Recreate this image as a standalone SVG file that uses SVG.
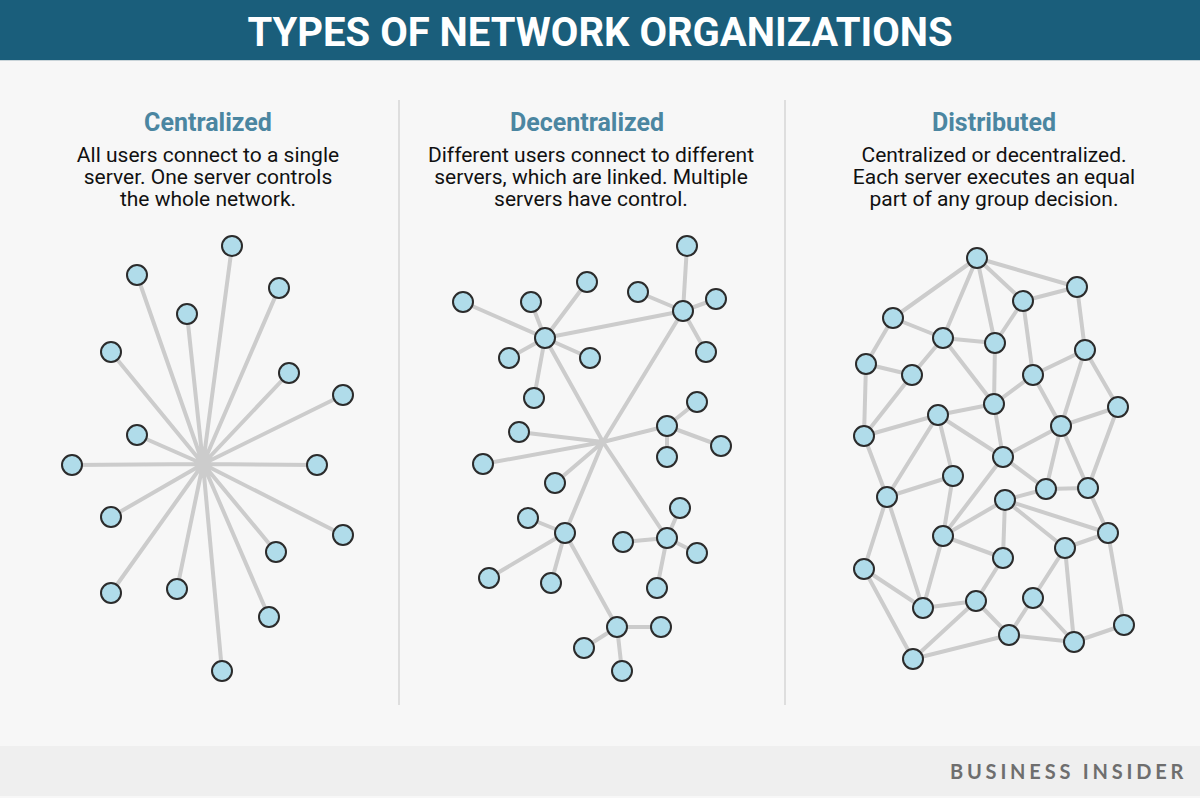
<svg xmlns="http://www.w3.org/2000/svg" width="1200" height="798" viewBox="0 0 1200 798">
<style>
.bg{fill:#f7f7f7}
.hdr{fill:#1a5e7b}
.title{font-family:Roboto,"Liberation Sans",sans-serif;font-weight:700;font-size:40px;fill:#ffffff}
.h2{font-family:Roboto,"Liberation Sans",sans-serif;font-weight:700;font-size:25px;fill:#4b86a1}
.body{font-family:Roboto,"Liberation Sans",sans-serif;font-weight:400;font-size:21px;fill:#111111}
.div{stroke:#dedede;stroke-width:2}
.e{stroke:#cccccc;stroke-width:4;stroke-linecap:round;fill:none}
.n{fill:#b0dcea;stroke:#2b2b2b;stroke-width:2}
.brand{font-family:Lato,"Liberation Sans",sans-serif;font-weight:700;font-size:20px;fill:#6e6e6e;letter-spacing:3.8px}
</style>
<rect class="bg" x="0" y="0" width="1200" height="798"/>
<rect class="hdr" x="0" y="0" width="1200" height="60"/>
<line x1="0" y1="60.5" x2="1200" y2="60.5" stroke="#c9d4d9" stroke-width="1"/>
<text class="title" x="600" y="46" text-anchor="middle">TYPES OF NETWORK ORGANIZATIONS</text>
<rect x="0" y="746" width="1200" height="50" fill="#efefef"/>
<text class="brand" x="950" y="779">BUSINESS INSIDER</text>
<line class="div" x1="399" y1="100" x2="399" y2="705"/>
<line class="div" x1="785" y1="100" x2="785" y2="705"/>

<g id="text-centralized">
<text class="h2" x="208" y="131" text-anchor="middle">Centralized</text>
<text class="body" text-anchor="middle"><tspan x="208" y="162">All users connect to a single</tspan><tspan x="208" y="184">server. One server controls</tspan><tspan x="208" y="206">the whole network.</tspan></text>
</g>
<g id="text-decentralized">
<text class="h2" x="587" y="131" text-anchor="middle">Decentralized</text>
<text class="body" text-anchor="middle"><tspan x="591" y="162">Different users connect to different</tspan><tspan x="591" y="184">servers, which are linked. Multiple</tspan><tspan x="591" y="206">servers have control.</tspan></text>
</g>
<g id="text-distributed">
<text class="h2" x="994" y="131" text-anchor="middle">Distributed</text>
<text class="body" text-anchor="middle"><tspan x="994" y="162">Centralized or decentralized.</tspan><tspan x="994" y="184">Each server executes an equal</tspan><tspan x="994" y="206">part of any group decision.</tspan></text>
</g>

<g id="connectors">
<g id="conn-centralized" class="e">
<path d="M203 464L232 246M203 464L137 275M203 464L279 288M203 464L187 314M203 464L111 352M203 464L289 373M203 464L343 395M203 464L137 435M203 464L72 465M203 464L317 465M203 464L111 517M203 464L343 535M203 464L276 552M203 464L111 593M203 464L177 589M203 464L269 617M203 464L222 671"/>
</g>
<g id="conn-decentralized" class="e">
<path d="M603 442L545 338M603 442L683 311M603 442L667 426M603 442L565 533M603 442L667 538M603 442L519 432M603 442L483 464M603 442L555 483M545 338L683 311"/>
<path d="M545 338L463 302M545 338L531 302M545 338L587 282M545 338L509 358M545 338L590 358M545 338L534 398"/>
<path d="M683 311L687 246M683 311L638 292M683 311L716 299M683 311L706 352"/>
<path d="M667 426L697 402M667 426L721 446M667 426L667 457"/>
<path d="M565 533L528 518M565 533L489 578M565 533L551 583M565 533L617 627"/>
<path d="M617 627L661 627M617 627L584 648M617 627L622 671"/>
<path d="M667 538L680 508M667 538L623 542M667 538L697 553M667 538L657 588"/>
</g>
<g id="conn-distributed" class="e">
<path d="M977 258L893 318M977 258L943 338M977 258L995 343M977 258L1023 301M977 258L1077 287M1077 287L1023 301M1077 287L1085 350M1023 301L995 343M1023 301L1033 375"/>
<path d="M893 318L866 364M893 318L943 338M943 338L995 343M943 338L912 375M943 338L994 404M995 343L994 404M1085 350L1033 375M1085 350L1061 426M1085 350L1118 407"/>
<path d="M866 364L912 375M866 364L864 436M912 375L864 436M1033 375L994 404M1033 375L1061 426M994 404L938 415M994 404L1003 457M1118 407L1061 426M1118 407L1088 488"/>
<path d="M938 415L864 436M938 415L1003 457M938 415L953 476M938 415L887 497M1061 426L1003 457M1061 426L1046 489M1061 426L1088 488M864 436L887 497"/>
<path d="M1003 457L1046 489M1003 457L943 536M953 476L887 497M953 476L943 536M1046 489L1088 488M1046 489L1005 500M1088 488L1108 533"/>
<path d="M887 497L864 569M887 497L923 608M1005 500L943 536M1005 500L1003 558M1005 500L1065 548M1005 500L1108 533M1108 533L1065 548M1108 533L1124 625"/>
<path d="M943 536L1003 558M943 536L923 608M1065 548L1033 598M1065 548L1074 642M1003 558L976 601M864 569L923 608M864 569L913 659"/>
<path d="M1033 598L1009 635M1033 598L1074 642M976 601L923 608M976 601L1009 635M976 601L913 659M1009 635L1074 642M1009 635L913 659M1124 625L1074 642"/>
</g>
</g>

<g id="nodes-centralized">
<g id="c1"><circle class="n" cx="232" cy="246" r="10"/></g>
<g id="c2"><circle class="n" cx="137" cy="275" r="10"/></g>
<g id="c3"><circle class="n" cx="279" cy="288" r="10"/></g>
<g id="c4"><circle class="n" cx="187" cy="314" r="10"/></g>
<g id="c5"><circle class="n" cx="111" cy="352" r="10"/></g>
<g id="c6"><circle class="n" cx="289" cy="373" r="10"/></g>
<g id="c7"><circle class="n" cx="343" cy="395" r="10"/></g>
<g id="c8"><circle class="n" cx="137" cy="435" r="10"/></g>
<g id="c9"><circle class="n" cx="72" cy="465" r="10"/></g>
<g id="c10"><circle class="n" cx="317" cy="465" r="10"/></g>
<g id="c11"><circle class="n" cx="111" cy="517" r="10"/></g>
<g id="c12"><circle class="n" cx="343" cy="535" r="10"/></g>
<g id="c13"><circle class="n" cx="276" cy="552" r="10"/></g>
<g id="c14"><circle class="n" cx="111" cy="593" r="10"/></g>
<g id="c15"><circle class="n" cx="177" cy="589" r="10"/></g>
<g id="c16"><circle class="n" cx="269" cy="617" r="10"/></g>
<g id="c17"><circle class="n" cx="222" cy="671" r="10"/></g>
</g>

<g id="nodes-decentralized">
<g id="dA"><circle class="n" cx="545" cy="338" r="10"/></g>
<g id="dA1"><circle class="n" cx="463" cy="302" r="10"/></g>
<g id="dA2"><circle class="n" cx="531" cy="302" r="10"/></g>
<g id="dA3"><circle class="n" cx="587" cy="282" r="10"/></g>
<g id="dA4"><circle class="n" cx="509" cy="358" r="10"/></g>
<g id="dA5"><circle class="n" cx="590" cy="358" r="10"/></g>
<g id="dA6"><circle class="n" cx="534" cy="398" r="10"/></g>
<g id="dB"><circle class="n" cx="683" cy="311" r="10"/></g>
<g id="dB1"><circle class="n" cx="687" cy="246" r="10"/></g>
<g id="dB2"><circle class="n" cx="638" cy="292" r="10"/></g>
<g id="dB3"><circle class="n" cx="716" cy="299" r="10"/></g>
<g id="dB4"><circle class="n" cx="706" cy="352" r="10"/></g>
<g id="dC"><circle class="n" cx="667" cy="426" r="10"/></g>
<g id="dC1"><circle class="n" cx="697" cy="402" r="10"/></g>
<g id="dC2"><circle class="n" cx="721" cy="446" r="10"/></g>
<g id="dC3"><circle class="n" cx="667" cy="457" r="10"/></g>
<g id="dX1"><circle class="n" cx="519" cy="432" r="10"/></g>
<g id="dX2"><circle class="n" cx="483" cy="464" r="10"/></g>
<g id="dX3"><circle class="n" cx="555" cy="483" r="10"/></g>
<g id="dD"><circle class="n" cx="565" cy="533" r="10"/></g>
<g id="dD1"><circle class="n" cx="528" cy="518" r="10"/></g>
<g id="dD2"><circle class="n" cx="489" cy="578" r="10"/></g>
<g id="dD3"><circle class="n" cx="551" cy="583" r="10"/></g>
<g id="dE"><circle class="n" cx="617" cy="627" r="10"/></g>
<g id="dE1"><circle class="n" cx="661" cy="627" r="10"/></g>
<g id="dE2"><circle class="n" cx="584" cy="648" r="10"/></g>
<g id="dE3"><circle class="n" cx="622" cy="671" r="10"/></g>
<g id="dF"><circle class="n" cx="667" cy="538" r="10"/></g>
<g id="dF1"><circle class="n" cx="680" cy="508" r="10"/></g>
<g id="dF2"><circle class="n" cx="623" cy="542" r="10"/></g>
<g id="dF3"><circle class="n" cx="697" cy="553" r="10"/></g>
<g id="dF4"><circle class="n" cx="657" cy="588" r="10"/></g>
</g>

<g id="nodes-distributed">
<g id="s1"><circle class="n" cx="977" cy="258" r="10"/></g>
<g id="s2"><circle class="n" cx="1077" cy="287" r="10"/></g>
<g id="s3"><circle class="n" cx="1023" cy="301" r="10"/></g>
<g id="s4"><circle class="n" cx="893" cy="318" r="10"/></g>
<g id="s5"><circle class="n" cx="943" cy="338" r="10"/></g>
<g id="s6"><circle class="n" cx="995" cy="343" r="10"/></g>
<g id="s7"><circle class="n" cx="1085" cy="350" r="10"/></g>
<g id="s8"><circle class="n" cx="866" cy="364" r="10"/></g>
<g id="s9"><circle class="n" cx="912" cy="375" r="10"/></g>
<g id="s10"><circle class="n" cx="1033" cy="375" r="10"/></g>
<g id="s11"><circle class="n" cx="994" cy="404" r="10"/></g>
<g id="s12"><circle class="n" cx="1118" cy="407" r="10"/></g>
<g id="s13"><circle class="n" cx="938" cy="415" r="10"/></g>
<g id="s14"><circle class="n" cx="1061" cy="426" r="10"/></g>
<g id="s15"><circle class="n" cx="864" cy="436" r="10"/></g>
<g id="s16"><circle class="n" cx="1003" cy="457" r="10"/></g>
<g id="s17"><circle class="n" cx="953" cy="476" r="10"/></g>
<g id="s18"><circle class="n" cx="1046" cy="489" r="10"/></g>
<g id="s19"><circle class="n" cx="1088" cy="488" r="10"/></g>
<g id="s20"><circle class="n" cx="887" cy="497" r="10"/></g>
<g id="s21"><circle class="n" cx="1005" cy="500" r="10"/></g>
<g id="s22"><circle class="n" cx="1108" cy="533" r="10"/></g>
<g id="s23"><circle class="n" cx="943" cy="536" r="10"/></g>
<g id="s24"><circle class="n" cx="1065" cy="548" r="10"/></g>
<g id="s25"><circle class="n" cx="1003" cy="558" r="10"/></g>
<g id="s26"><circle class="n" cx="864" cy="569" r="10"/></g>
<g id="s27"><circle class="n" cx="1033" cy="598" r="10"/></g>
<g id="s28"><circle class="n" cx="976" cy="601" r="10"/></g>
<g id="s29"><circle class="n" cx="923" cy="608" r="10"/></g>
<g id="s30"><circle class="n" cx="1124" cy="625" r="10"/></g>
<g id="s31"><circle class="n" cx="1009" cy="635" r="10"/></g>
<g id="s32"><circle class="n" cx="1074" cy="642" r="10"/></g>
<g id="s33"><circle class="n" cx="913" cy="659" r="10"/></g>
</g>
</svg>
